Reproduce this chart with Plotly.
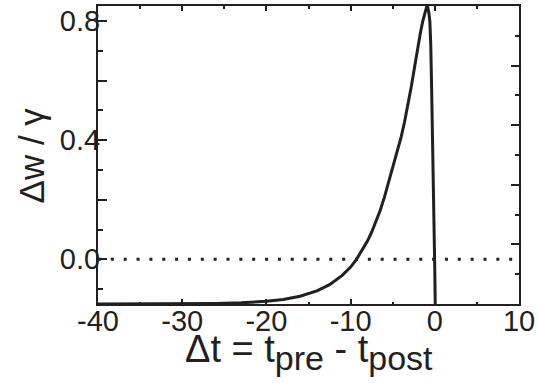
import plotly.graph_objects as go

# Data
dt_vals = [-40, -35, -30, -26, -23, -20, -18, -16, -14, -12.5, -11, -10, -9.3, -8.5,
           -8, -7.5, -7, -6.5, -6, -5.5, -5, -4.5, -4, -3.6, -3.2, -2.8, -2.4, -2.0,
           -1.7, -1.42, -1.2, -1.05, -0.95, -0.85, -0.72, -0.59, -0.48, -0.38, -0.28,
           -0.18, -0.08, 0.0, 0.05, 0.1]
dw_vals = [-0.15, -0.15, -0.149, -0.148, -0.146, -0.141, -0.135, -0.124, -0.106, -0.085,
           -0.054, -0.026, 0.0, 0.035, 0.061, 0.091, 0.125, 0.163, 0.207, 0.256, 0.305,
           0.355, 0.41, 0.46, 0.515, 0.578, 0.645, 0.715, 0.762, 0.80, 0.826, 0.842,
           0.849, 0.847, 0.83, 0.80, 0.72, 0.58, 0.44, 0.29, 0.12, -0.04, -0.15, -0.25]
ref_x = [-40, 10]
ref_y = [0, 0]

x_major = [-40, -30, -20, -10, 0, 10]
x_labels = ["-40", "-30", "-20", "-10", "0", "10"]
y_major = [0.0, 0.2, 0.4, 0.6, 0.8]
y_labels = ["0.0", "", "0.4", "", "0.8"]
y2_major = [0.05, 0.25, 0.45, 0.65]

ink = "#231f20"
font_family = "Liberation Sans, Arial, sans-serif"

fig = go.Figure()
fig.add_trace(go.Scatter(x=ref_x, y=ref_y, mode="lines", yaxis="y2",
                         line=dict(color=ink, width=3, dash="3px,9.85px"),
                         hoverinfo="skip", showlegend=False))
fig.add_trace(go.Scatter(x=dt_vals, y=dw_vals, mode="lines",
                         line=dict(color=ink, width=3),
                         showlegend=False))

fig.update_layout(
    width=539, height=383,
    margin=dict(l=98, r=18, t=4, b=79),
    paper_bgcolor="white", plot_bgcolor="white",
    font=dict(family=font_family, color=ink, size=29),
    xaxis=dict(range=[-40, 10], showgrid=False, zeroline=False,
               showline=True, linewidth=2, linecolor=ink, mirror="ticks",
               ticks="inside", tickvals=x_major, ticktext=x_labels,
               ticklen=5, tickwidth=2, tickcolor=ink, ticklabelstandoff=-10,
               minor=dict(dtick=5, tick0=0, ticks="inside", ticklen=2.5,
                          tickwidth=2, tickcolor=ink, showgrid=False),
               tickfont=dict(size=29)),
    yaxis=dict(range=[-0.15, 0.85], showgrid=False, zeroline=False,
               showline=True, linewidth=2, linecolor=ink, mirror=False,
               ticks="inside", tickvals=y_major, ticktext=y_labels,
               ticklen=9, tickwidth=2, tickcolor=ink, ticklabelstandoff=-10,
               minor=dict(dtick=0.1, tick0=0, ticks="inside", ticklen=5,
                          tickwidth=2, tickcolor=ink, showgrid=False),
               tickfont=dict(size=29)),
    yaxis2=dict(range=[-0.15, 0.85], overlaying="y", side="right", anchor="x",
                showgrid=False, zeroline=False, showticklabels=False,
                showline=True, linewidth=2, linecolor=ink,
                ticks="inside", tickvals=y2_major, ticklen=8, tickwidth=2, tickcolor=ink,
                minor=dict(dtick=0.1, tick0=0.05, ticks="inside", ticklen=4,
                           tickwidth=2, tickcolor=ink, showgrid=False)),
    annotations=[
        dict(text=("Δt = t<sub><span style='font-size:34px'>pre</span></sub> - "
                   "t<sub><span style='font-size:34px'>post</span></sub>"),
             xref="paper", yref="paper",
             x=0.5, y=-0.075, xanchor="center", yanchor="top", showarrow=False,
             font=dict(size=38, family=font_family, color=ink)),
        dict(text="Δw / γ", xref="paper", yref="paper", textangle=-90,
             x=-0.158, y=0.5, xanchor="center", yanchor="middle", showarrow=False,
             font=dict(size=35, family=font_family, color=ink)),
    ],
)

fig.write_html("out.html")
